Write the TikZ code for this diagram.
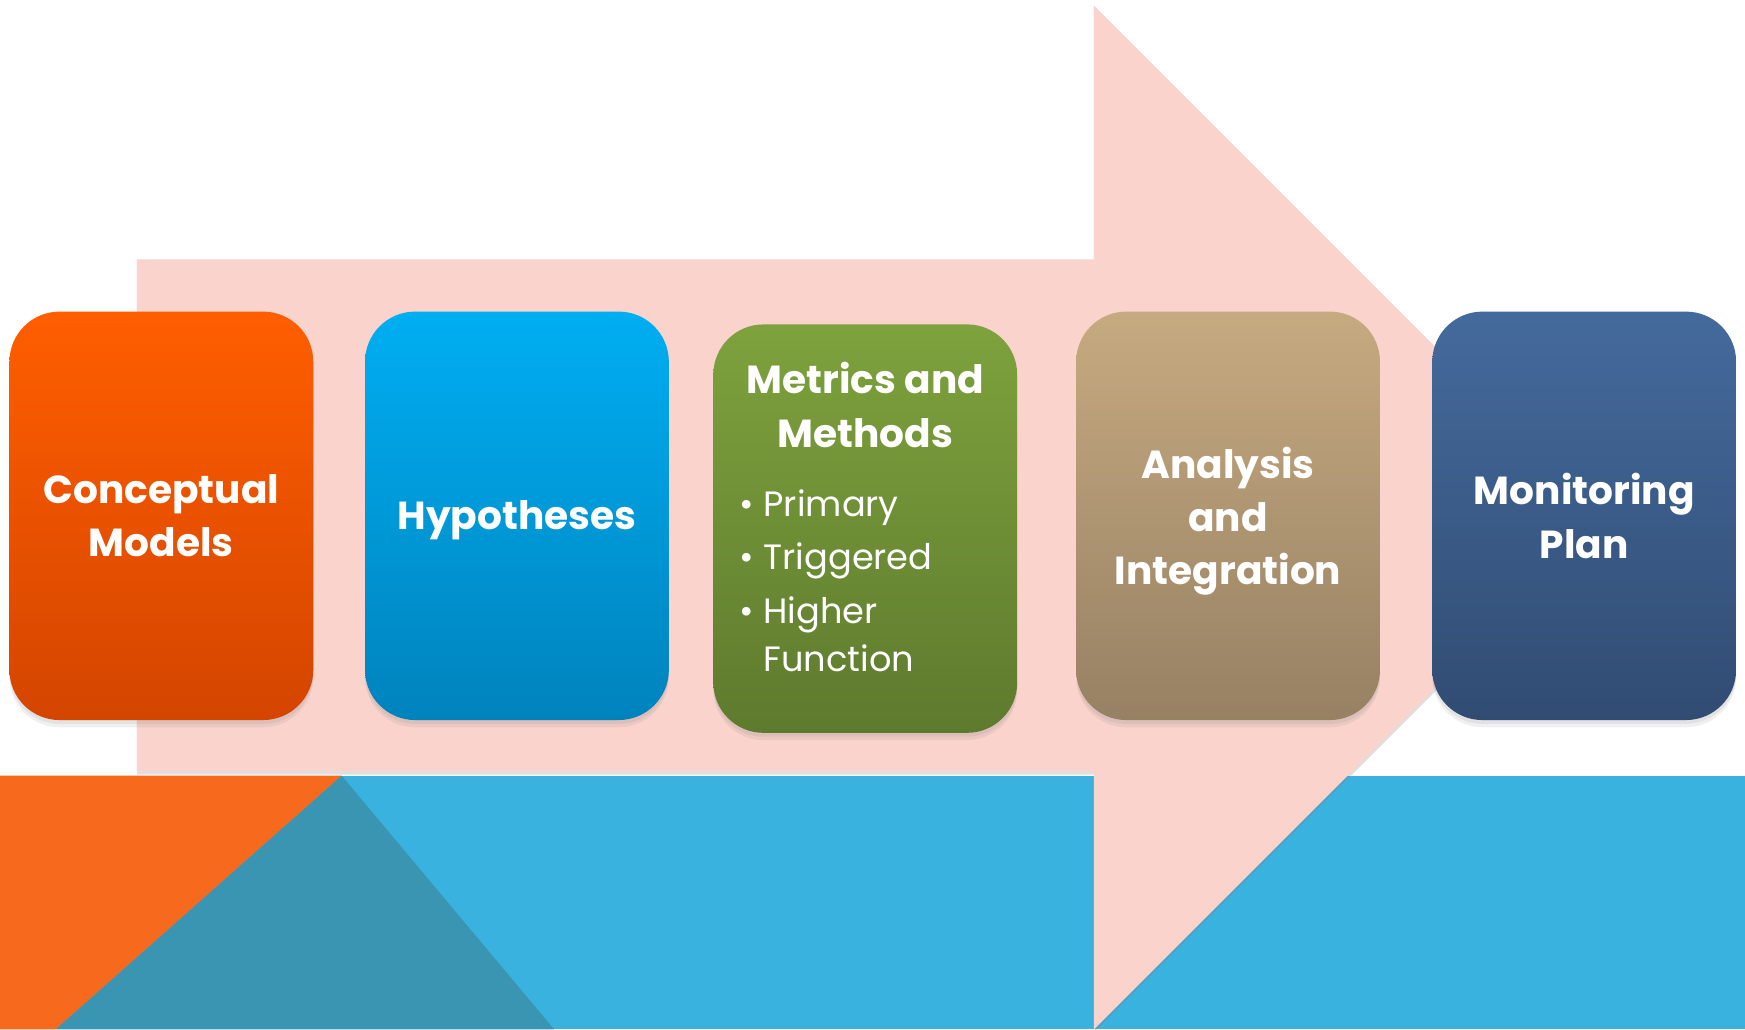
\documentclass[tikz,border=0pt]{standalone}
\usepackage{fontspec}
\setmainfont{Poppins}
\usepackage{tikz}
\usetikzlibrary{positioning,shadows}
\definecolor{arrowpink}{HTML}{FAD3CC}
\definecolor{bandorange}{HTML}{F76A1E}
\definecolor{bandteal}{HTML}{3A95B3}
\definecolor{bandblue}{HTML}{3AB2DF}
\definecolor{orangetop}{HTML}{FF5E00}
\definecolor{orangebot}{HTML}{D44500}
\definecolor{bluetop}{HTML}{00AEF2}
\definecolor{bluebot}{HTML}{0083BD}
\definecolor{greentop}{HTML}{7EA23D}
\definecolor{greenbot}{HTML}{5E7A2E}
\definecolor{tantop}{HTML}{C6AA80}
\definecolor{tanbot}{HTML}{978164}
\definecolor{navytop}{HTML}{446A9C}
\definecolor{navybot}{HTML}{314C73}
\newcommand{\pushdown}[2]{\raisebox{0pt}[\dimexpr\height+#1\relax]{#2}}
\tikzset{roundy/.style={rectangle,rounded corners=9mm,minimum width=54.6mm,minimum height=73.4mm,
        text=white,align=center,font=\bfseries\fontsize{20}{27.3}\selectfont,
        drop shadow={opacity=0.12,shadow xshift=0pt,shadow yshift=-1.3mm},
        drop shadow={opacity=0.12,shadow xshift=0pt,shadow yshift=-0.7mm}},
    titly/.style={text=white,align=center,inner sep=0,font=\bfseries\fontsize{20}{27.3}\selectfont},
    bullety/.style={text=white,inner sep=0,font=\fontsize{18}{24.5}\selectfont}}

\begin{document}
\begin{tikzpicture}[x=0.2mm,y=-0.2mm]
\useasboundingbox (0,0) rectangle (1568,925);

\fill [bandblue] (0,697) rectangle (1568,925);
\fill [bandorange] (0,697) -- (307,697) -- (50,925) -- (0,925) -- cycle;
\fill [bandteal] (307,697) -- (498,925) -- (50,925) -- cycle;

\fill [arrowpink,drop shadow={opacity=0.25,shadow xshift=0pt,shadow yshift=-0.6mm}]
    (123,233) -- (983,233) -- (983,5) -- (1443,465) -- (983,925) -- (983,693) -- (123,693) -- cycle;

\node (box 1) [roundy,top color=orangetop,bottom color=orangebot] at (145,463.5) {Conceptual\\Models};
\node (box 2) [roundy,top color=bluetop,bottom color=bluebot] at (464.5,463.5) {\pushdown{4.5pt}{Hypotheses}};
\node (box 3) [roundy,top color=greentop,bottom color=greenbot] at (777.5,475) {};
\node (box 4) [roundy,top color=tantop,bottom color=tanbot] at (1103.5,463.5) {\pushdown{5.5pt}{Analysis}\\and\\Integration};
\node (box 5) [roundy,top color=navytop,bottom color=navybot] at (1423.5,463.5) {Monitoring\\Plan};

\node (box 3 title) [titly] at (777.5,364) {Metrics and\\Methods};
\node (box 3 list) [bullety,anchor=west] at (664,525) {\begin{tabular}{@{}l@{\hspace{5pt}}l@{}}
\textbullet & Primary\\[2.5pt]
\textbullet & Triggered\\[3pt]
\textbullet & Higher\\
 & Function
\end{tabular}};

\end{tikzpicture}
\end{document}
